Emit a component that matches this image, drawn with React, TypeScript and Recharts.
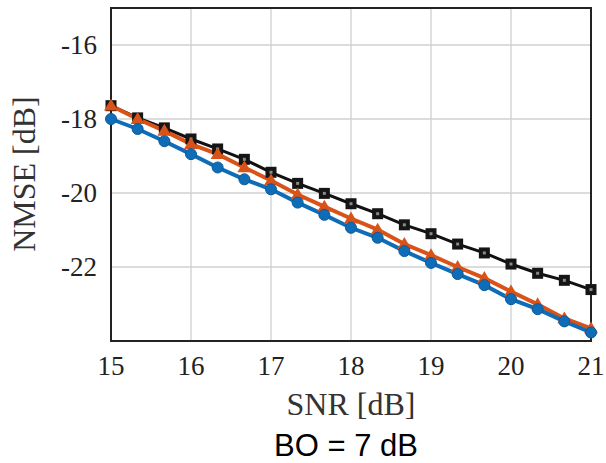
import React from "react";
import {
  LineChart,
  Line,
  XAxis,
  YAxis,
  CartesianGrid,
  ReferenceArea,
} from "recharts";

// SNR [dB] sample points
const snr = [
  15, 15.333, 15.667, 16, 16.333, 16.667, 17, 17.333, 17.667, 18, 18.333,
  18.667, 19, 19.333, 19.667, 20, 20.333, 20.667, 21,
];

// NMSE [dB]
const blackSeries = [
  -17.64, -17.97, -18.24, -18.54, -18.81, -19.09, -19.44, -19.74, -20.01,
  -20.29, -20.56, -20.86, -21.1, -21.38, -21.62, -21.92, -22.17, -22.36,
  -22.61,
];
const orangeSeries = [
  -17.64, -18.0, -18.32, -18.68, -18.95, -19.31, -19.66, -20.04, -20.37,
  -20.69, -20.99, -21.38, -21.68, -22.0, -22.3, -22.66, -23.01, -23.39,
  -23.66,
];
const blueSeries = [
  -18.0, -18.27, -18.6, -18.95, -19.31, -19.63, -19.9, -20.26, -20.59, -20.94,
  -21.21, -21.57, -21.89, -22.19, -22.49, -22.87, -23.14, -23.47, -23.77,
];

const xTicks = [15, 16, 17, 18, 19, 20, 21];
const yTicks = [-22, -20, -18, -16];

const data = snr.map((s, i) => ({
  snr: s,
  black: blackSeries[i],
  orange: orangeSeries[i],
  blue: blueSeries[i],
}));

const serif = "'Liberation Serif', 'Times New Roman', serif";
const tickStyle = { fontFamily: serif, fontSize: 27 };

// markers
const SquareDot = (props: any) => {
  const { cx, cy } = props;
  if (cx == null || cy == null) return null;
  return (
    <g>
      <rect x={cx - 5.5} y={cy - 5.5} width={11} height={11} fill="#151515" />
      <rect x={cx - 1.5} y={cy - 1.5} width={3} height={3} fill="#8a8a8a" />
    </g>
  );
};

const TriangleDot = (props: any) => {
  const { cx, cy } = props;
  if (cx == null || cy == null) return null;
  const s = 7;
  return (
    <polygon
      points={`${cx},${cy - s} ${cx - s},${cy + s * 0.7} ${cx + s},${cy + s * 0.7}`}
      fill="#D95319"
    />
  );
};

const CircleDot = (props: any) => {
  const { cx, cy } = props;
  if (cx == null || cy == null) return null;
  return <circle cx={cx} cy={cy} r={5.5} fill="#0F6DB8" stroke="#0B5A99" strokeWidth={1} />;
};

// tick labels in serif
const renderXTick = (props: any) => {
  const { x, y, payload } = props;
  return (
    <text x={x} y={y + 18} textAnchor="middle" style={tickStyle} fill="#222">
      {payload.value}
    </text>
  );
};

const renderYTick = (props: any) => {
  const { x, y, payload } = props;
  return (
    <text x={x} y={y + 9} textAnchor="end" style={tickStyle} fill="#222">
      {payload.value}
    </text>
  );
};

// x axis title + subtitle under it
const XTitle = (props: any) => {
  const { viewBox } = props;
  const cx = viewBox.x + viewBox.width / 2;
  return (
    <g>
      <text x={cx} y={415} textAnchor="middle" style={{ fontFamily: serif, fontSize: 32 }} fill="#333">
        SNR [dB]
      </text>
      <text
        x={cx - 5}
        y={456}
        textAnchor="middle"
        style={{ fontFamily: "'Liberation Sans', Arial, sans-serif", fontSize: 31 }}
        fill="#000"
      >
        BO = 7 dB
      </text>
    </g>
  );
};

const YTitle = () => (
  <text
    x={35}
    y={174}
    transform="rotate(-90, 35, 174)"
    textAnchor="middle"
    style={{ fontFamily: serif, fontSize: 32 }}
    fill="#333"
  >
    NMSE [dB]
  </text>
);

export default function App() {
  return (
    <div style={{ position: "absolute", left: 0, top: 0, background: "#fff", fontFamily: serif }}>
      <LineChart
        width={606}
        height={463}
        data={data}
        margin={{ top: 8, right: 15, left: 0, bottom: 0 }}
      >
        <CartesianGrid stroke="#d0d0d0" strokeWidth={1.3} />
        <XAxis
          dataKey="snr"
          type="number"
          domain={[15, 21]}
          ticks={xTicks}
          height={122}
          tickLine={false}
          tickSize={0}
          tickMargin={16}
          axisLine={{ stroke: "#222", strokeWidth: 2 }}
          tick={renderXTick}
          label={<XTitle />}
        />
        <YAxis
          type="number"
          domain={[-24, -15]}
          ticks={yTicks}
          width={111}
          tickLine={false}
          tickSize={0}
          tickMargin={14}
          axisLine={{ stroke: "#222", strokeWidth: 2 }}
          tick={renderYTick}
          label={<YTitle />}
        />
        <ReferenceArea
          x1={15}
          x2={21}
          y1={-24}
          y2={-15}
          fill="none"
          stroke="#222"
          strokeWidth={2}
          fillOpacity={0}
        />
        <Line
          dataKey="black"
          type="linear"
          stroke="#111"
          strokeWidth={3}
          dot={<SquareDot />}
          activeDot={false}
          isAnimationActive={false}
        />
        <Line
          dataKey="orange"
          type="linear"
          stroke="#D95319"
          strokeWidth={4}
          dot={<TriangleDot />}
          activeDot={false}
          isAnimationActive={false}
        />
        <Line
          dataKey="blue"
          type="linear"
          stroke="#0F6DB8"
          strokeWidth={4}
          dot={<CircleDot />}
          activeDot={false}
          isAnimationActive={false}
        />
      </LineChart>
    </div>
  );
}
